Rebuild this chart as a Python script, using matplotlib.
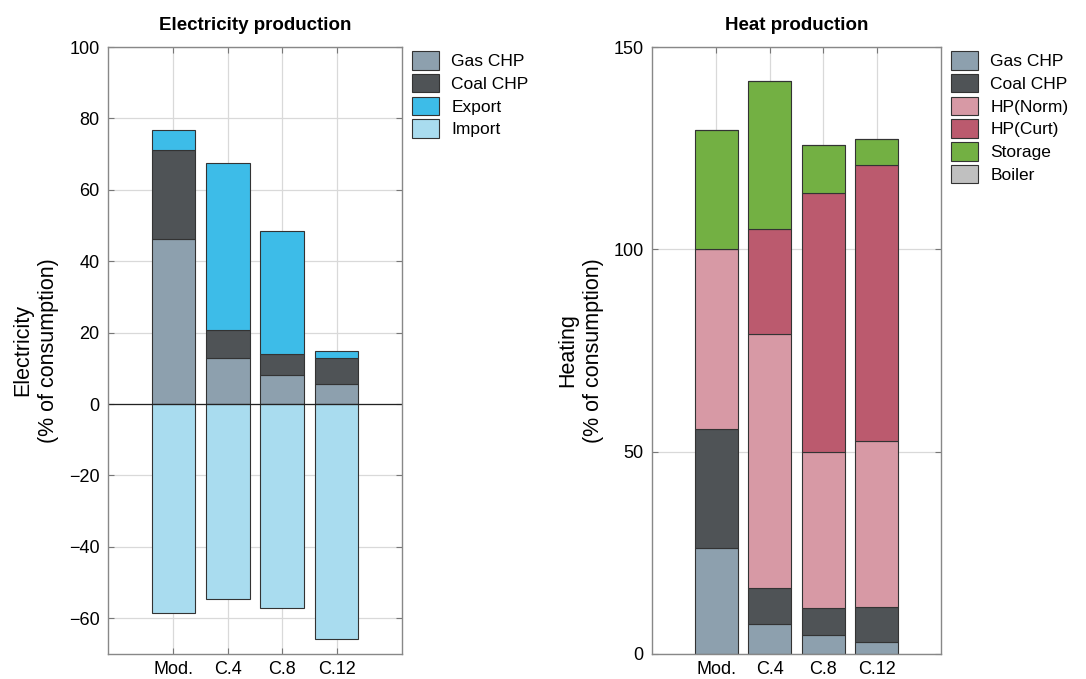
import matplotlib.pyplot as plt
import numpy as np

plt.rcParams['font.family'] = ['Liberation Sans', 'DejaVu Sans']
plt.rcParams['font.size'] = 12

scenarios = ["Mod.", "C.4", "C.8", "C.12"]

# Electricity production (% of consumption)
elec_gas = [46.2, 13.0, 8.2, 5.5]
elec_coal = [24.9, 7.7, 5.9, 7.3]
elec_export = [5.7, 46.7, 34.5, 2.2]
elec_import = [-58.5, -54.5, -57.1, -65.7]

# Heat production (% of consumption)
heat_gas = [26.2, 7.4, 4.7, 3.0]
heat_coal = [29.4, 9.0, 6.7, 8.7]
heat_hp_norm = [44.4, 62.6, 38.6, 41.0]
heat_hp_curt = [0.0, 26.0, 63.8, 68.2]
heat_storage = [29.6, 36.7, 12.0, 6.4]
heat_boiler = [0.0, 0.0, 0.0, 0.0]

colors = {
    "Gas CHP": "#8da0ae",
    "Coal CHP": "#4f5356",
    "Export": "#3dbce8",
    "Import": "#a9dcef",
    "HP(Norm)": "#d799a5",
    "HP(Curt)": "#bb5a6e",
    "Storage": "#73b043",
    "Boiler": "#c0c0c0",
}

x = np.arange(1, len(scenarios) + 1)
width = 0.8
edge = dict(edgecolor="#333333", linewidth=0.8)

fig = plt.figure(figsize=(10.86, 6.79), dpi=100)
ax1 = fig.add_axes([108 / 1086, 25 / 679, 294 / 1086, 607 / 679])
ax2 = fig.add_axes([652 / 1086, 25 / 679, 289 / 1086, 607 / 679])


def style_axes(ax):
    ax.set_xticks(x)
    ax.set_xticklabels(scenarios)
    ax.set_xlim(-0.2, 5.2)
    ax.grid(True, color="#d9d9d9", linewidth=0.9)
    ax.set_axisbelow(True)
    ax.tick_params(direction="in", top=True, right=True, length=4,
                   color="#777777", labelsize=13, pad=6)
    ax.tick_params(axis="x", pad=5)
    for s in ax.spines.values():
        s.set_color("#888888")
        s.set_linewidth(1.0)


def add_legend(ax):
    ax.legend(loc="upper left", bbox_to_anchor=(1.0, 1.01), frameon=False,
              fontsize=12.5, handlelength=1.55, handleheight=1.25,
              handletextpad=0.7, labelspacing=0.25, borderaxespad=0.2)


# Electricity
bottom = np.zeros(len(x))
for name, vals in [("Gas CHP", elec_gas), ("Coal CHP", elec_coal), ("Export", elec_export)]:
    ax1.bar(x, vals, width, bottom=bottom, color=colors[name], label=name, **edge)
    bottom += np.array(vals)
ax1.bar(x, elec_import, width, color=colors["Import"], label="Import", **edge)
ax1.axhline(0, color="#222222", linewidth=0.9)
ax1.set_ylim(-70, 100)
ax1.set_yticks(np.arange(-60, 101, 20))
ax1.set_yticklabels([str(v).replace("-", "\u2212") for v in range(-60, 101, 20)])
style_axes(ax1)
ax1.set_title("Electricity production", fontweight="bold", fontsize=13.5, pad=12)
ax1.set_ylabel("Electricity\n(% of consumption)", fontsize=15.5, labelpad=7,
               linespacing=1.3)
add_legend(ax1)

# Heat
bottom = np.zeros(len(x))
for name, vals in [("Gas CHP", heat_gas), ("Coal CHP", heat_coal),
                   ("HP(Norm)", heat_hp_norm), ("HP(Curt)", heat_hp_curt),
                   ("Storage", heat_storage), ("Boiler", heat_boiler)]:
    ax2.bar(x, vals, width, bottom=bottom, color=colors[name], label=name, **edge)
    bottom += np.array(vals)
ax2.set_ylim(0, 150)
ax2.set_yticks([0, 50, 100, 150])
style_axes(ax2)
ax2.set_title("Heat production", fontweight="bold", fontsize=13.5, pad=12)
ax2.set_ylabel("Heating\n(% of consumption)", fontsize=15.5, labelpad=7,
               linespacing=1.3)
add_legend(ax2)

fig.savefig("out.png", dpi=100)
